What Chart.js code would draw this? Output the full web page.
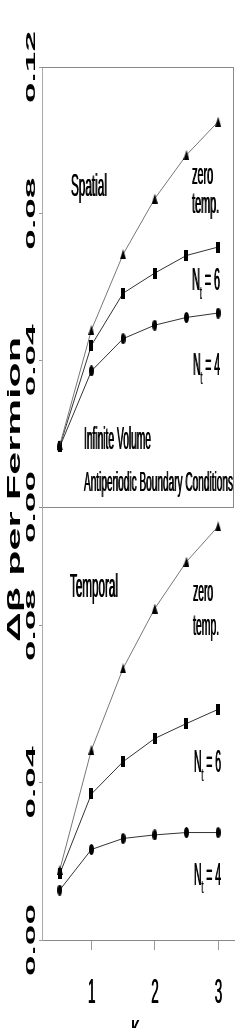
<!DOCTYPE html>
<html>
<head>
<meta charset="UTF-8">
<title>Delta beta per Fermion</title>
<script src="https://cdn.jsdelivr.net/npm/chart.js"></script>
<style>
  html, body { margin: 0; padding: 0; background: #fff; }
  #wrap { position: relative; width: 240px; height: 1028px; overflow: hidden; }
  #wrap canvas { position: absolute; left: 0; top: 0; }
</style>
</head>
<body>
<div id="wrap">
  <canvas id="spatialChart" width="240" height="1028"></canvas>
  <canvas id="temporalChart" width="240" height="1028"></canvas>
</div>
<script>
// hopping parameter kappa, same for both panels
const kappa = [0.5, 1, 1.5, 2, 2.5, 3];

// upper panel: spatial
const spatialZeroT = [0.0168, 0.0483, 0.0689, 0.0841, 0.0960, 0.1051];
const spatialNt6 = [0.0166, 0.0441, 0.0583, 0.0638, 0.0686, 0.0709];
const spatialNt4 = [0.0164, 0.0371, 0.0459, 0.0496, 0.0517, 0.0529];

// lower panel: temporal
const temporalZeroT = [0.0178, 0.0483, 0.0690, 0.0842, 0.0961, 0.1051];
const temporalNt6 = [0.0168, 0.0371, 0.0453, 0.0512, 0.0550, 0.0586];
const temporalNt4 = [0.0127, 0.0230, 0.0258, 0.0267, 0.0273, 0.0273];

const spatialTicks = [0, 0.04, 0.08, 0.12];
const temporalTicks = [0, 0.04, 0.08];
const kappaTicks = [1, 2, 3];

const FONT = '"Liberation Sans", Arial, sans-serif';

// the figure is squeezed sideways, so every text is drawn stretched to a box
function drawText(ctx, parts, x, y, w, h, o = {}) {
  const F = 100;
  const items = (Array.isArray(parts) ? parts : [parts]).map(p => typeof p === 'string' ? {t: p} : p);
  const font = it => (o.bold ? 'bold ' : '') + (it.sub ? F * 0.6 : F) + 'px ' + FONT;
  let total = 0;
  ctx.save();
  items.forEach(it => { ctx.font = font(it); it.w = ctx.measureText(it.t).width; total += it.w; });
  const cap = F * 0.716;
  const a = w / total;
  ctx.translate(x, y);
  if (o.rotate) ctx.rotate(-Math.PI / 2);
  ctx.scale(a, h / cap);
  ctx.fillStyle = '#000';
  ctx.textAlign = 'left';
  ctx.textBaseline = 'alphabetic';
  let cx = o.align === 'center' ? -total / 2 : 0;
  const by = o.middle ? cap / 2 : 0;
  const thick = o.thick ? o.thick / a : 0;   // widen stems a little
  items.forEach(it => {
    ctx.font = font(it);
    ctx.fillText(it.t, cx, by + (it.sub ? F * 0.28 : 0));
    if (thick) ctx.fillText(it.t, cx + thick, by + (it.sub ? F * 0.28 : 0));
    cx += it.w;
  });
  ctx.restore();
}

function marker(kind) {
  const c = document.createElement('canvas');
  const w = kind === 'rect' ? 4 : (kind === 'tri' ? 6 : 5);
  const h = kind === 'tri' ? 10 : 11;
  c.width = w; c.height = h;
  const g = c.getContext('2d');
  g.fillStyle = '#000';
  g.beginPath();
  if (kind === 'tri') { g.moveTo(w / 2, 0); g.lineTo(w, h); g.lineTo(0, h); g.closePath(); }
  else if (kind === 'rect') g.rect(0, 0, w, h);
  else g.ellipse(w / 2, h / 2, w / 2, h / 2, 0, 0, Math.PI * 2);
  g.fill();
  return c;
}
const triMark = marker('tri'), rectMark = marker('rect'), dotMark = marker('dot');

function series(values, mark, color) {
  return {
    data: kappa.map((k, i) => ({x: k, y: values[i]})),
    borderColor: color,
    borderWidth: 1,
    pointStyle: mark,
    pointRadius: 3,
    clip: false,
    tension: 0
  };
}

function notes(chart, list) {
  const xs = chart.scales.x, ys = chart.scales.y;
  list.forEach(n => drawText(chart.ctx, n.text, xs.getPixelForValue(n.x), ys.getPixelForValue(n.y), n.w, n.h, {thick: 0.6}));
}

function yLabels(chart, ticks) {
  const ys = chart.scales.y;
  ticks.forEach(v => drawText(chart.ctx, v.toFixed(2), 30.5, ys.getPixelForValue(v), 72, 9,
    {rotate: true, align: 'center', middle: true, bold: true}));
}

const xMin = 0.22, xMax = 3.25;

function baseOptions(yMax, yTicks, padding, showX) {
  return {
    responsive: false,
    animation: false,
    layout: {padding: padding},
    plugins: {legend: {display: false}, tooltip: {enabled: false}},
    scales: {
      x: {
        type: 'linear', min: xMin, max: xMax, display: showX,
        afterBuildTicks: s => { s.ticks = kappaTicks.map(v => ({value: v})); },
        ticks: {display: false},
        grid: {drawOnChartArea: false, drawTicks: true, tickLength: 10, color: '#999'},
        border: {color: '#888'},
        afterFit: s => { s.height = showX ? 88 : 0; }
      },
      y: {
        type: 'linear', min: 0, max: yMax,
        afterBuildTicks: s => { s.ticks = yTicks.map(v => ({value: v})); },
        ticks: {display: false},
        grid: {drawOnChartArea: false, drawTicks: true, tickLength: 3, color: '#999'},
        border: {color: '#aaa'},
        afterFit: s => { s.width = 42; }
      }
    }
  };
}

const spatialNotes = [
  {text: 'Spatial', x: 0.672, y: 0.0847, w: 36, h: 23},
  {text: 'zero', x: 2.584, y: 0.0881, w: 21, h: 21},
  {text: 'temp.', x: 2.584, y: 0.0802, w: 27, h: 21},
  {text: ['N', {t: 't', sub: true}, ' = 6'], x: 2.584, y: 0.0592, w: 28, h: 22},
  {text: ['N', {t: 't', sub: true}, ' = 4'], x: 2.60, y: 0.0360, w: 27, h: 22},
  {text: 'Infinite Volume', x: 0.878, y: 0.0158, w: 67, h: 22},
  {text: 'Antiperiodic Boundary Conditions', x: 0.878, y: 0.0043, w: 149, h: 20}
];

const temporalNotes = [
  {text: 'Temporal', x: 0.657, y: 0.0871, w: 48, h: 24},
  {text: 'zero', x: 2.60, y: 0.0861, w: 20, h: 21},
  {text: 'temp.', x: 2.60, y: 0.0775, w: 26, h: 21},
  {text: ['N', {t: 't', sub: true}, ' = 6'], x: 2.615, y: 0.0427, w: 27, h: 22},
  {text: ['N', {t: 't', sub: true}, ' = 4'], x: 2.615, y: 0.0140, w: 27, h: 22}
];

new Chart(document.getElementById('spatialChart'), {
  type: 'line',
  data: {datasets: [
    series(spatialZeroT, triMark, '#777'),
    series(spatialNt6, rectMark, '#333'),
    series(spatialNt4, dotMark, '#333')
  ]},
  options: baseOptions(0.12, spatialTicks, {top: 67, right: 6, bottom: 521, left: 0}, false),
  plugins: [{
    id: 'spatialDeco',
    afterDraw(chart) {
      const ctx = chart.ctx, a = chart.chartArea;
      ctx.save();
      ctx.strokeStyle = '#888';
      ctx.lineWidth = 1;
      ctx.beginPath();
      ctx.moveTo(a.left, a.top + 0.5); ctx.lineTo(a.right, a.top + 0.5);
      ctx.moveTo(a.right - 0.5, a.top); ctx.lineTo(a.right - 0.5, a.bottom);
      ctx.moveTo(a.left - 3, a.bottom + 0.5); ctx.lineTo(a.right, a.bottom + 0.5);
      ctx.stroke();
      ctx.restore();
      yLabels(chart, spatialTicks);
      notes(chart, spatialNotes);
    }
  }]
});

new Chart(document.getElementById('temporalChart'), {
  type: 'line',
  data: {datasets: [
    series(temporalZeroT, triMark, '#777'),
    series(temporalNt6, rectMark, '#333'),
    series(temporalNt4, dotMark, '#333')
  ]},
  options: baseOptions(0.11, temporalTicks, {top: 507, right: 6, bottom: 0, left: 0}, true),
  plugins: [{
    id: 'temporalDeco',
    afterDraw(chart) {
      const ctx = chart.ctx, xs = chart.scales.x;
      yLabels(chart, temporalTicks);
      notes(chart, temporalNotes);
      kappaTicks.forEach(v => drawText(ctx, String(v), xs.getPixelForValue(v), 1003, 7.5, 25, {align: 'center', thick: 0.5}));
      drawText(ctx, 'κ', 135, 1037, 8, 22, {align: 'center', thick: 0.5});
      drawText(ctx, 'Δβ per Fermion', 13.5, 489.5, 305, 13, {rotate: true, align: 'center', middle: true, bold: true});
    }
  }]
});
</script>
</body>
</html>
